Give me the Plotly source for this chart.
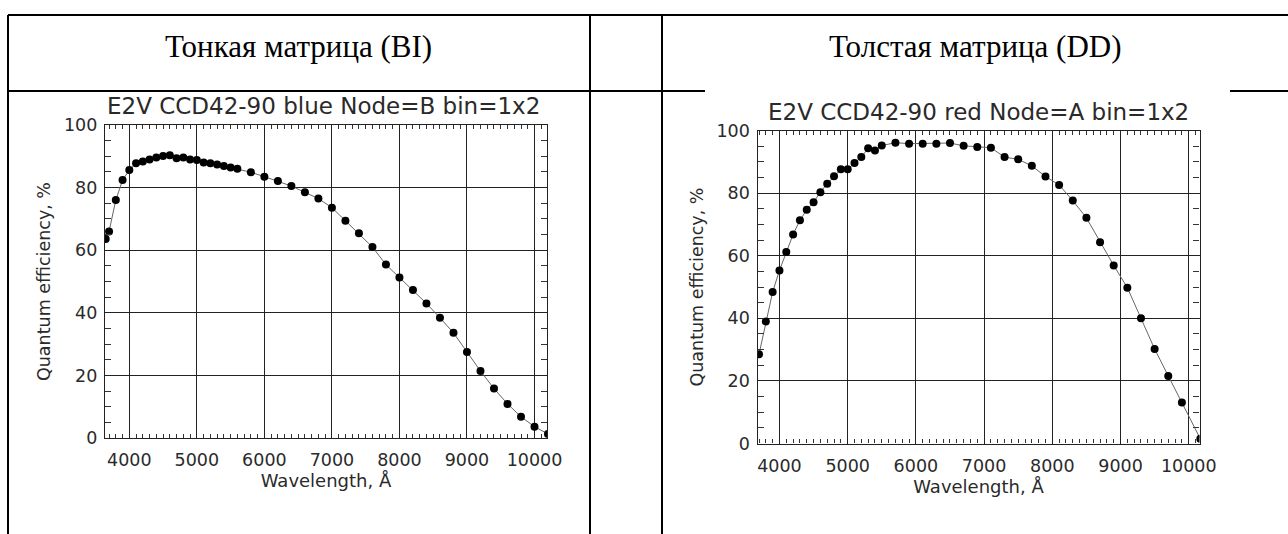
import plotly.graph_objects as go

W, H = 1288, 534

# ---- data ----
blue_wl = [3650, 3700, 3800, 3900, 4000, 4100, 4200, 4300, 4400, 4500, 4600, 4700, 4800,
           4900, 5000, 5100, 5200, 5300, 5400, 5500, 5600, 5800, 6000, 6200, 6400, 6600,
           6800, 7000, 7200, 7400, 7600, 7800, 8000, 8200, 8400, 8600, 8800, 9000, 9200,
           9400, 9600, 9800, 10000, 10200]
blue_qe = [63.6, 66.0, 76.0, 82.4, 85.6, 87.8, 88.3, 89.0, 89.6, 90.1, 90.3, 89.4, 89.6,
           89.0, 88.8, 88.0, 87.8, 87.4, 86.9, 86.4, 86.0, 84.9, 83.5, 82.1, 80.5, 78.5,
           76.5, 73.6, 69.4, 65.4, 61.0, 55.4, 51.3, 47.3, 43.0, 38.4, 33.6, 27.5, 21.4,
           15.8, 10.9, 6.8, 3.6, 1.3]

red_wl = [3700, 3800, 3900, 4000, 4100, 4200, 4300, 4400, 4500, 4600, 4700, 4800, 4900,
          5000, 5100, 5200, 5300, 5400, 5500, 5700, 5900, 6100, 6300, 6500, 6700, 6900,
          7100, 7300, 7500, 7700, 7900, 8100, 8300, 8500, 8700, 8900, 9100, 9300, 9500,
          9700, 9900, 10170]
red_qe = [28.5, 39.0, 48.4, 55.3, 61.2, 66.8, 71.3, 74.7, 77.1, 80.3, 83.0, 85.4, 87.6,
          87.6, 89.6, 91.5, 94.3, 93.6, 95.2, 96.1, 95.8, 95.8, 95.8, 96.0, 95.1, 94.7,
          94.5, 91.5, 90.8, 88.7, 85.3, 82.6, 77.6, 72.1, 64.3, 56.9, 49.8, 40.0, 30.2,
          21.6, 13.1, 1.5]

header_left = "Тонкая матрица (BI)"
header_right = "Толстая матрица (DD)"
title_left = "E2V CCD42-90 blue Node=B bin=1x2"
title_right = "E2V CCD42-90 red Node=A bin=1x2"
x_title = "Wavelength, Å"
y_title = "Quantum efficiency, %"


def px(x):
    return x / W


def py(y):
    return (H - y) / H


FONT = "DejaVu Sans"
TXT = "#2a2a2a"

fig = go.Figure()
fig.add_trace(go.Scatter(x=blue_wl, y=blue_qe, mode="lines+markers", xaxis="x", yaxis="y",
                         line=dict(color="#666666", width=1),
                         marker=dict(color="black", size=8), showlegend=False))
fig.add_trace(go.Scatter(x=red_wl, y=red_qe, mode="lines+markers", xaxis="x2", yaxis="y2",
                         line=dict(color="#666666", width=1),
                         marker=dict(color="black", size=8), showlegend=False))

common_x = dict(dtick=1000, tick0=0, tickformat="d", showgrid=True, gridcolor="#222222",
                gridwidth=1.3, showline=True, linecolor="#222222", linewidth=1.3, mirror="ticks",
                ticks="inside", ticklen=5, tickcolor="#222222", zeroline=False,
                minor=dict(dtick=100, tick0=0, ticks="inside", ticklen=4, tickcolor="#333333",
                           showgrid=False),
                tickfont=dict(family=FONT, size=17.5, color=TXT),
                ticklabelstandoff=6,
                title=dict(text=x_title, font=dict(family=FONT, size=18, color=TXT), standoff=4),
                automargin=False, fixedrange=True)
common_y = dict(dtick=20, tick0=0, range=[0, 100], showgrid=True, gridcolor="#222222",
                gridwidth=1.3, showline=True, linecolor="#222222", linewidth=1.3,
                mirror="ticks", ticks="inside", ticklen=6, tickcolor="#222222", zeroline=False,
                minor=dict(dtick=5, tick0=0, ticks="inside", ticklen=6, tickcolor="#333333",
                           showgrid=False),
                tickfont=dict(family=FONT, size=17.5, color=TXT),
                title=dict(text=y_title, font=dict(family=FONT, size=17.5, color=TXT), standoff=8),
                ticklabelstandoff=3,
                automargin=False, fixedrange=True)

fig.update_layout(
    width=W, height=H, margin=dict(l=0, r=0, t=0, b=0),
    paper_bgcolor="white", plot_bgcolor="white",
    xaxis=dict(common_x, domain=[px(105), px(547)], range=[3640, 10185], anchor="y"),
    yaxis=dict(common_y, domain=[py(438), py(125)], anchor="x"),
    xaxis2=dict(common_x, domain=[px(757.5), px(1199.5)], range=[3678, 10158], anchor="y2"),
    yaxis2=dict(common_y, domain=[py(443.5), py(130.5)], anchor="x2"),
)

# table lines
lines = [
    (8, 15, 1288, 15),
    (8, 15, 8, 534),
    (590, 15, 590, 534),
    (662, 15, 662, 534),
    (8, 91, 705, 91),
    (1230, 91, 1288, 91),
]
for x0, y0, x1, y1 in lines:
    fig.add_shape(type="line", xref="paper", yref="paper",
                  x0=px(x0), y0=py(y0), x1=px(x1), y1=py(y1),
                  line=dict(color="black", width=2))

ann = [
    (298, 47, header_left, "Liberation Serif", 31, "black"),
    (975, 47, header_right, "Liberation Serif", 31, "black"),
    (324, 106, title_left, FONT, 23, TXT),
    (978, 112, title_right, FONT, 23, TXT),
]
for x, y, t, f, s, c in ann:
    fig.add_annotation(x=px(x), y=py(y), xref="paper", yref="paper", text=t, showarrow=False,
                       xanchor="center", yanchor="middle", font=dict(family=f, size=s, color=c))

fig.write_html("out.html")
